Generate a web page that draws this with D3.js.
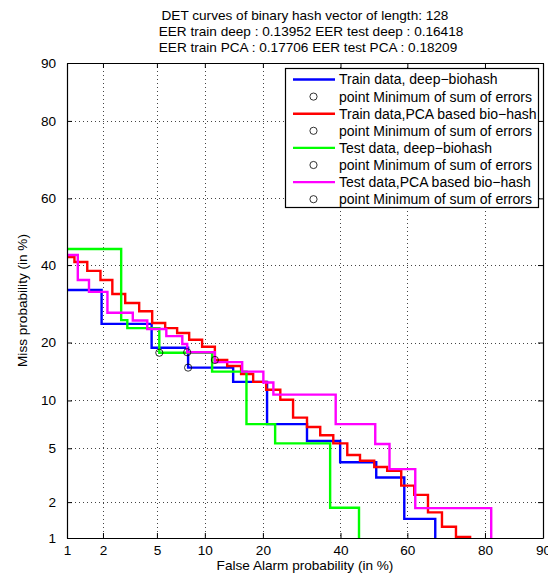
<!DOCTYPE html>
<html>
<head>
<meta charset="utf-8">
<script src="https://cdn.jsdelivr.net/npm/d3@7"></script>
<style>
  body { margin: 0; background: #fff; }
  svg { display: block; font-family: "Liberation Sans", Arial, Helvetica, sans-serif; }
</style>
</head>
<body>
<svg id="chart" width="548" height="576"></svg>
<script>
// Tick labels (in %), same on both axes
const xTicks = [1, 2, 5, 10, 20, 40, 60, 80, 90];
const yTicks = [1, 2, 5, 10, 20, 40, 60, 80, 90];

// DET curves.
// FA = false alarm % where the step drops, Miss = miss % after the drop
const trainDeepFA   = [0.5, 1.95, 4.6, 7.95, 14.3, 20.9, 30.6, 39.9, 50.7, 59.1, 67.9];
const trainDeepMiss = [32.9, 24.2, 18.9, 15.1, 12.7, 7.2, 5.6, 4.0, 3.1, 1.46, 0.5];

const trainPcaFA   = [0.5, 1.16, 1.49, 1.91, 2.37, 2.97, 3.76, 4.64, 5.68, 6.79, 8.07, 9.64, 11.4, 13.3, 15.7, 18.0,
                      20.7, 23.9, 27.0, 30.6, 34.2, 37.9, 42.0, 45.8, 50.1, 54.0, 58.2, 62.0, 65.9, 69.7, 73.3, 76.7];
const trainPcaMiss = [42.4, 40.9, 38.3, 35.7, 31.8, 29.4, 27.3, 24.4, 23.2, 22.1, 20.6, 19.1, 16.5, 15.4, 14.0, 12.7,
                      11.5, 10.1, 7.9, 6.9, 6.1, 5.4, 4.5, 4.1, 3.7, 3.47, 2.69, 2.28, 1.65, 1.25, 1.02, 0.5];

const testDeepFA   = [0.5, 2.77, 3.08, 5.19, 11.0, 16.7, 22.7, 37.0, 45.5];
const testDeepMiss = [44.8, 25.1, 23.2, 17.9, 14.4, 7.2, 5.4, 1.8, 0.5];

const testPcaFA   = [0.5, 1.24, 1.54, 2.17, 3.38, 4.29, 5.78, 7.32, 7.85, 11.4, 15.9, 20.1, 22.3, 38.6, 50.4, 54.7, 62.3, 81.3];
const testPcaMiss = [43.0, 35.7, 32.4, 26.9, 25.0, 23.0, 21.4, 19.7, 18.0, 16.1, 14.4, 12.6, 10.8, 7.2, 5.35, 3.57, 1.79, 0.5];

// points of minimum sum of errors (train deep, train PCA, test deep, test PCA)
const minFA   = [7.95, 11.4, 5.19, 7.85];
const minMiss = [15.1, 16.5, 17.9, 18.0];

const seriesNames  = ["Train data, deep\u2212biohash", "Train data,PCA based bio\u2212hash",
                      "Test data, deep\u2212biohash", "Test data,PCA based bio\u2212hash"];
const seriesColors = ["#0000ff", "#ff0000", "#00ff00", "#ff00ff"];

const titleLines = [
    "DET curves of binary hash vector of length: 128",
    "EER train deep : 0.13952 EER test deep : 0.16418",
    "EER train PCA : 0.17706 EER test PCA : 0.18209"
];

// inverse normal CDF (Acklam), the DET axes are in normal deviates
function probit(p) {
    const a = [-3.969683028665376e+01, 2.209460984245205e+02, -2.759285104469687e+02, 1.383577518672690e+02, -3.066479806614716e+01, 2.506628277459239e+00];
    const b = [-5.447609879822406e+01, 1.615858368580409e+02, -1.556989798598866e+02, 6.680131188771972e+01, -1.328068155288572e+01];
    const c = [-7.784894002430293e-03, -3.223964580411365e-01, -2.400758277161838e+00, -2.549732539343734e+00, 4.374664141464968e+00, 2.938163982698783e+00];
    const d = [7.784695709041462e-03, 3.224671290700398e-01, 2.445134137142996e+00, 3.754408661907416e+00];
    const plow = 0.02425;
    let q, r;
    if (p < plow) {
        q = Math.sqrt(-2 * Math.log(p));
        return (((((c[0]*q + c[1])*q + c[2])*q + c[3])*q + c[4])*q + c[5]) / ((((d[0]*q + d[1])*q + d[2])*q + d[3])*q + 1);
    }
    if (p <= 1 - plow) {
        q = p - 0.5; r = q * q;
        return (((((a[0]*r + a[1])*r + a[2])*r + a[3])*r + a[4])*r + a[5])*q / (((((b[0]*r + b[1])*r + b[2])*r + b[3])*r + b[4])*r + 1);
    }
    q = Math.sqrt(-2 * Math.log(1 - p));
    return -(((((c[0]*q + c[1])*q + c[2])*q + c[3])*q + c[4])*q + c[5]) / ((((d[0]*q + d[1])*q + d[2])*q + d[3])*q + 1);
}

const plotLeft = 67, plotRight = 543, plotTop = 63, plotBottom = 538;
const fontSize = "13.6px";

const svg = d3.select("#chart");

const x = d3.scaleLinear().domain([probit(0.01), probit(0.90)]).range([plotLeft, plotRight]);
const y = d3.scaleLinear().domain([probit(0.01), probit(0.90)]).range([plotBottom, plotTop]);
const px = v => x(probit(v / 100));
const py = v => y(probit(v / 100));

// title
svg.append("g").selectAll("text")
    .data(titleLines)
    .join("text")
    .attr("x", (d, i) => [305, 311, 308][i])
    .attr("y", (d, i) => 20 + i * 16)
    .attr("text-anchor", "middle")
    .attr("font-size", fontSize)
    .attr("fill", "#000")
    .text(d => d);

// dotted grid
const grid = svg.append("g").attr("stroke", "#444").attr("stroke-width", 1).attr("stroke-dasharray", "1,3");
xTicks.slice(1, -1).forEach(t => {
    grid.append("line").attr("x1", Math.round(px(t)) + 0.5).attr("x2", Math.round(px(t)) + 0.5)
        .attr("y1", plotTop).attr("y2", plotBottom);
});
yTicks.slice(1, -1).forEach(t => {
    grid.append("line").attr("y1", Math.round(py(t)) + 0.5).attr("y2", Math.round(py(t)) + 0.5)
        .attr("x1", plotLeft).attr("x2", plotRight);
});

// curves
svg.append("clipPath").attr("id", "plot-clip")
    .append("rect").attr("x", plotLeft).attr("y", plotTop)
    .attr("width", plotRight - plotLeft).attr("height", plotBottom - plotTop);

const curves = [
    d3.zip(trainDeepFA, trainDeepMiss),
    d3.zip(trainPcaFA, trainPcaMiss),
    d3.zip(testDeepFA, testDeepMiss),
    d3.zip(testPcaFA, testPcaMiss)
];

const line = d3.line()
    .x(d => px(d[0]))
    .y(d => py(d[1]))
    .curve(d3.curveStepAfter);

const plot = svg.append("g").attr("clip-path", "url(#plot-clip)");

curves.forEach((pts, i) => {
    plot.append("path")
        .attr("d", line(pts))
        .attr("fill", "none")
        .attr("stroke", seriesColors[i])
        .attr("stroke-width", 2.4);
});

// minimum points
plot.selectAll("circle.min")
    .data(d3.zip(minFA, minMiss))
    .join("circle")
    .attr("class", "min")
    .attr("cx", d => px(d[0]))
    .attr("cy", d => py(d[1]))
    .attr("r", 3.6)
    .attr("fill", "none")
    .attr("stroke", "#000")
    .attr("stroke-width", 0.8);

// axes: ticks inside on all four sides
const xVals = xTicks.map(t => probit(t / 100));
const yVals = yTicks.map(t => probit(t / 100));

function styleAxis(g) {
    g.selectAll("path.domain").attr("stroke", "#000").attr("stroke-width", 1.2);
    g.selectAll(".tick line").attr("stroke", "#000");
    g.selectAll(".tick text").attr("fill", "#000").attr("font-size", fontSize)
        .attr("font-family", "'Liberation Sans', Arial, Helvetica, sans-serif");
}

svg.append("g")
    .attr("transform", `translate(0,${plotBottom})`)
    .call(d3.axisBottom(x).tickValues(xVals).tickFormat((d, i) => xTicks[i])
        .tickSizeInner(-5).tickSizeOuter(0).tickPadding(7))
    .call(styleAxis);

svg.append("g")
    .attr("transform", `translate(0,${plotTop})`)
    .call(d3.axisTop(x).tickValues(xVals).tickFormat("").tickSizeInner(-5).tickSizeOuter(0))
    .call(styleAxis);

svg.append("g")
    .attr("transform", `translate(${plotLeft},0)`)
    .call(d3.axisLeft(y).tickValues(yVals).tickFormat((d, i) => yTicks[i])
        .tickSizeInner(-5).tickSizeOuter(0).tickPadding(11))
    .call(styleAxis);

svg.append("g")
    .attr("transform", `translate(${plotRight},0)`)
    .call(d3.axisRight(y).tickValues(yVals).tickFormat("").tickSizeInner(-5).tickSizeOuter(0))
    .call(styleAxis);

// axis labels
svg.append("text")
    .attr("x", (plotLeft + plotRight) / 2)
    .attr("y", 570)
    .attr("text-anchor", "middle")
    .attr("font-size", fontSize)
    .text("False Alarm probability (in %)");

svg.append("text")
    .attr("transform", `translate(27,${(plotTop + plotBottom) / 2}) rotate(-90)`)
    .attr("text-anchor", "middle")
    .attr("font-size", fontSize)
    .text("Miss probability (in %)");

// legend
const legendFont = "14px";
const legend = svg.append("g");
legend.append("rect")
    .attr("x", 285.5).attr("y", 68.5)
    .attr("width", 253).attr("height", 139)
    .attr("fill", "#fff").attr("stroke", "#000").attr("stroke-width", 1.2);

const rowH = 17.1;
seriesNames.forEach((name, i) => {
    const yl = 79.5 + 2 * i * rowH;
    const ym = yl + rowH;
    legend.append("line")
        .attr("x1", 293).attr("x2", 335).attr("y1", yl).attr("y2", yl)
        .attr("stroke", seriesColors[i]).attr("stroke-width", 2.4);
    legend.append("text")
        .attr("x", 339).attr("y", yl).attr("dy", "0.35em")
        .attr("font-size", legendFont).text(name);
    legend.append("circle")
        .attr("cx", 313.5).attr("cy", ym).attr("r", 3.6)
        .attr("fill", "none").attr("stroke", "#000").attr("stroke-width", 0.8);
    legend.append("text")
        .attr("x", 339).attr("y", ym).attr("dy", "0.35em")
        .attr("font-size", legendFont).text("point Minimum of sum of errors");
});
</script>
</body>
</html>
